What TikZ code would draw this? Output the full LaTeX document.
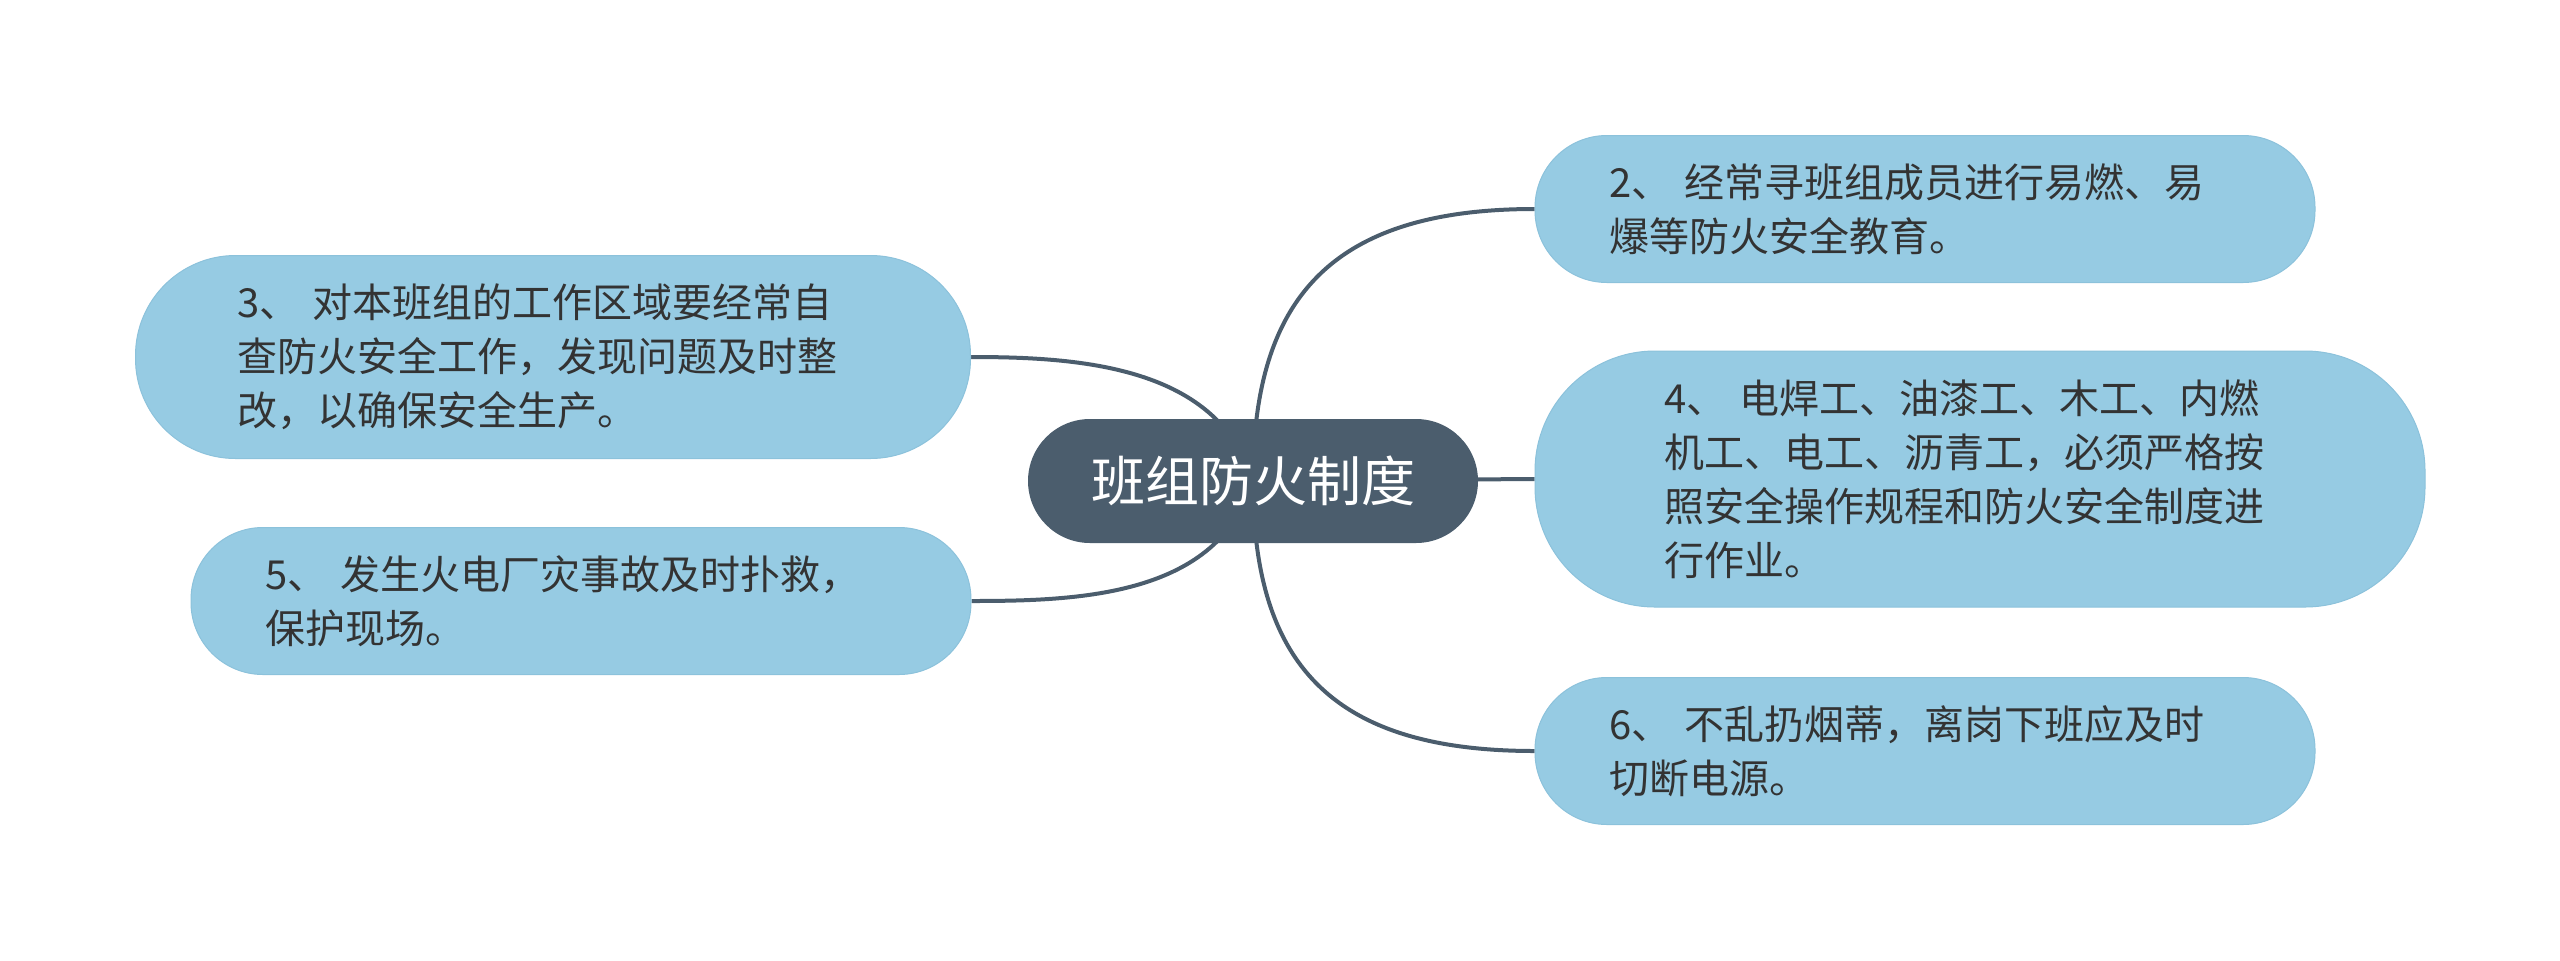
\documentclass[tikz,border=0pt]{standalone}
\usepackage{fontspec}
\setmainfont{Noto Sans CJK SC}
\usetikzlibrary{backgrounds}
\definecolor{topicgray}{HTML}{4B5D6D}
\definecolor{leafblue}{HTML}{96CBE3}
\definecolor{leafedge}{HTML}{8CC2DB}
\definecolor{leaftext}{HTML}{333333}
\begin{document}
\begin{tikzpicture}[
x=0.5pt,y=-0.5pt,
topic/.style={fill=topicgray,text=white,rounded corners=31pt,
	minimum width=225pt,minimum height=62pt,font={\fontsize{27}{32}\selectfont}},
leaf/.style={fill=leafblue,draw=leafedge,line width=0.5pt,text=leaftext,align=left,
	text width=316pt,rounded corners=36pt,minimum width=390pt,minimum height=73.5pt,
	font={\fontsize{20}{27}\selectfont}},
link/.style={draw=topicgray,line width=2pt}
]
\useasboundingbox (0,0) rectangle (2560,960);
\node[topic](c) at (1253,481){班组防火制度};
\node[leaf](n2) at (1925,209){2、 经常寻班组成员进行易燃、易\\爆等防火安全教育。};
\node[leaf,minimum width=445pt,minimum height=128pt,rounded corners=60pt](n4) at (1980,479)
	{4、 电焊工、油漆工、木工、内燃\\机工、电工、沥青工，必须严格按\\照安全操作规程和防火安全制度进\\行作业。};
\node[leaf](n6) at (1925,751){6、 不乱扔烟蒂，离岗下班应及时\\切断电源。};
\node[leaf,minimum width=417.5pt,minimum height=101.5pt,rounded corners=50pt](n3) at (553,357)
	{3、 对本班组的工作区域要经常自\\查防火安全工作，发现问题及时整\\改，以确保安全生产。};
\node[leaf](n5) at (581,601){5、 发生火电厂灾事故及时扑救，\\保护现场。};
\begin{pgfonlayer}{background}
\draw[link] (c.center) .. controls +(0,-181) and +(-205,0) .. (n2.west);
\draw[link] (c.center) -- (n4.west);
\draw[link] (c.center) .. controls +(0,181) and +(-205,0) .. (n6.west);
\draw[link] (c.center) .. controls +(-35,-115) and +(109,0) .. (n3.east);
\draw[link] (c.center) .. controls +(-35,115) and +(109,0) .. (n5.east);
\end{pgfonlayer}
\end{tikzpicture}
\end{document}
